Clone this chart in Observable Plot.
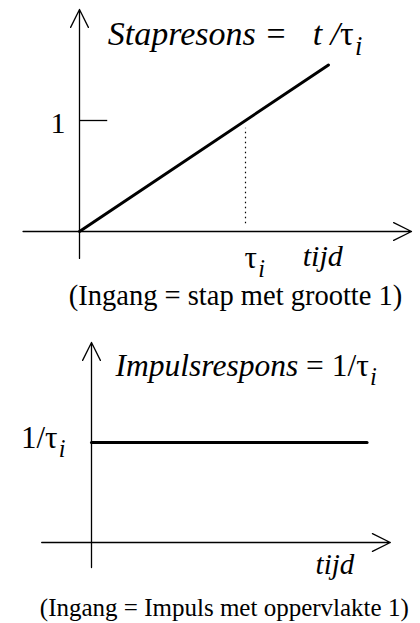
<!DOCTYPE html>
<html><head><meta charset="utf-8">
<script src="https://cdn.jsdelivr.net/npm/d3@7"></script>
<script src="https://cdn.jsdelivr.net/npm/@observablehq/plot@0.6"></script>
<style>
html,body{margin:0;padding:0;background:#fff;}
#chart{width:420px;}
svg{display:block;}
</style></head><body><div id="chart"></div>
<script>
// Step response (input = step of size 1): y = t / tau
const stepTime = [0, 1.5];
const stepValue = [0, 1.5];
// Impulse response (input = impulse of area 1): y = 1 / tau
const impulseTime = [0, 1.66];
const impulseValue = [1, 1];
// Tick labels
const stepTickValues = [1];
const stepTickLabels = ["1"];
const stepXTickValues = [1];
const stepXTickLabels = ["τ_i"];
const impulseTickValues = [1];
const impulseTickLabels = ["1/τ_i"];
// Texts
const stepTitle = "*Stapresons =   t /*τ_i";
const impulseTitle = "*Impulsrespons* = 1/τ_i";
const axisLabel = "tijd";
const stepCaption = "(Ingang = stap met grootte 1)";
const impulseCaption = "(Ingang = Impuls met oppervlakte 1)";

const F = "'Liberation Serif', 'Times New Roman', serif";
const rows = (xs, ys) => xs.map((t, i) => ({t, v: ys[i]}));
const arrowOpts = {stroke: "black", strokeWidth: 1.3, headLength: 23, headAngle: 53};

function rich(svg) {
  d3.select(svg).selectAll("text").each(function () {
    const s = this.textContent;
    if (!/[*_]/.test(s)) return;
    const el = d3.select(this);
    el.text(null).attr("xml:space", "preserve").style("white-space", "pre");
    let italic = false, buf = "";
    const flush = () => {
      if (buf) { el.append("tspan").attr("font-style", italic ? "italic" : "normal").text(buf); buf = ""; }
    };
    for (let k = 0; k < s.length; k++) {
      const c = s[k];
      if (c === "*") { flush(); italic = !italic; }
      else if (c === "_") {
        flush();
        el.append("tspan").attr("font-style", "italic").attr("dx", "0.05em").attr("dy", "0.38em").attr("font-size", "0.78em").text(s[++k]);
      } else buf += c;
    }
    flush();
  });
  return svg;
}

const topPlot = Plot.plot({
  width: 420, height: 318, margin: 0,
  x: {domain: [0, 1], range: [79, 245], axis: null},
  y: {domain: [0, 1], range: [231, 120], axis: null},
  style: {fontFamily: F, background: "white", color: "black"},
  marks: [
    Plot.arrow([0], {x1: -0.34, x2: 2.0, y1: 0, y2: 0, ...arrowOpts}),
    Plot.arrow([0], {x1: 0, x2: 0, y1: -0.243, y2: 2.0, ...arrowOpts}),
    Plot.ruleY(stepTickValues, {x1: 0, x2: 0.17, stroke: "black", strokeWidth: 1.3}),
    Plot.ruleX(stepXTickValues, {y1: 0.07, y2: 0.93, stroke: "black", strokeWidth: 1.2, strokeDasharray: "1.5 3.5"}),
    Plot.line(rows(stepTime, stepValue), {x: "t", y: "v", stroke: "black", strokeWidth: 3}),
    Plot.text(stepTickLabels, {x: 0, y: stepTickValues[0], text: d => d, textAnchor: "end", lineAnchor: "bottom", dx: -14, dy: 12, fontSize: 30}),
    Plot.text(stepXTickLabels, {x: stepXTickValues[0], y: 0, text: d => d, textAnchor: "start", lineAnchor: "bottom", dx: -1, dy: 36, fontSize: 31}),
    Plot.text([axisLabel], {x: 1.345, y: 0, text: d => d, textAnchor: "start", lineAnchor: "bottom", dy: 34, fontSize: 30, fontStyle: "italic"}),
    Plot.text([stepTitle], {x: 0.17, y: 1.68, text: d => d, textAnchor: "start", lineAnchor: "bottom", fontSize: 34}),
    Plot.text([stepCaption], {x: 0.94, y: -0.665, text: d => d, textAnchor: "middle", lineAnchor: "bottom", fontSize: 28.5})
  ]
});

const bottomPlot = Plot.plot({
  width: 420, height: 305, margin: 0,
  x: {domain: [0, 1], range: [91, 257], axis: null},
  y: {domain: [0, 1], range: [224, 124], axis: null},
  style: {fontFamily: F, background: "white", color: "black"},
  marks: [
    Plot.arrow([0], {x1: -0.30, x2: 1.80, y1: 0, y2: 0, ...arrowOpts}),
    Plot.arrow([0], {x1: 0, x2: 0, y1: -0.25, y2: 2.0, ...arrowOpts}),
    Plot.line(rows(impulseTime, impulseValue), {x: "t", y: "v", stroke: "black", strokeWidth: 3}),
    Plot.text(impulseTickLabels, {x: 0, y: impulseTickValues[0], text: d => d, textAnchor: "end", lineAnchor: "bottom", dx: -26, dy: 5, fontSize: 31}),
    Plot.text([axisLabel], {x: 1.35, y: 0, text: d => d, textAnchor: "start", lineAnchor: "bottom", dy: 31, fontSize: 29, fontStyle: "italic"}),
    Plot.text([impulseTitle], {x: 0.145, y: 1.67, text: d => d, textAnchor: "start", lineAnchor: "bottom", fontSize: 31.5}),
    Plot.text([impulseCaption], {x: 0.80, y: -0.73, text: d => d, textAnchor: "middle", lineAnchor: "bottom", fontSize: 25})
  ]
});

document.getElementById("chart").append(rich(topPlot), rich(bottomPlot));
</script></body></html>
